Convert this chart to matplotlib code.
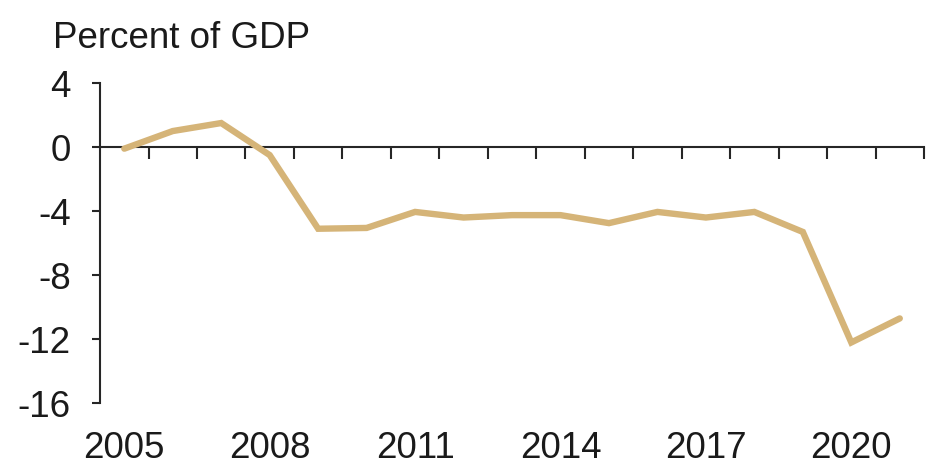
import matplotlib
matplotlib.use("Agg")
import matplotlib.pyplot as plt
import matplotlib.transforms as mtransforms

years = list(range(2005, 2022))
values = [-0.1, 1.0, 1.5, -0.5, -5.1, -5.05, -4.05, -4.4, -4.25, -4.25,
          -4.75, -4.05, -4.4, -4.05, -5.3, -12.2, -10.7]
label_years = [2005, 2008, 2011, 2014, 2017, 2020]
y_ticks = [4, 0, -4, -8, -12, -16]
title = "Percent of GDP"

line_color = "#D5B478"
axis_color = "#262626"
text_color = "#1a1a1a"

plt.rcParams['font.family'] = ['Liberation Sans', 'DejaVu Sans']

fig = plt.figure(figsize=(9.42, 4.70), dpi=100)
ax = fig.add_axes([0.1062, 0.1419, 0.9809 - 0.1062, 0.8234 - 0.1419])

x = list(range(len(years)))
ax.plot(x, values, color=line_color, lw=4.6, solid_joinstyle='miter',
        solid_capstyle='round', clip_on=False, zorder=3)

ax.set_xlim(-0.5, len(years) - 0.5)
ax.set_ylim(-16, 4)

for s in ['top', 'right']:
    ax.spines[s].set_visible(False)
ax.spines['left'].set_color(axis_color)
ax.spines['left'].set_linewidth(1.5)
ax.spines['bottom'].set_position(('data', 0))
ax.spines['bottom'].set_color(axis_color)
ax.spines['bottom'].set_linewidth(1.5)

ax.set_yticks(y_ticks)
ax.set_yticklabels([str(v) for v in y_ticks])
ax.tick_params(axis='y', direction='out', length=6, width=1.5, color=axis_color,
               labelsize=26.5, labelcolor=text_color, pad=15)

boundaries = [i + 0.5 for i in range(len(years))]
ax.set_xticks(boundaries)
ax.set_xticklabels([])
ax.tick_params(axis='x', direction='out', length=8.5, width=1.5, color=axis_color)

trans = mtransforms.blended_transform_factory(ax.transData, ax.transAxes)
for yr in label_years:
    ax.text(years.index(yr), -0.085, str(yr), transform=trans, ha='center',
            va='top', fontsize=26.5, color=text_color)

fig.text(53 / 942, 1 - 48 / 470, title, ha='left', va='baseline',
         fontsize=26.5, color=text_color)

fig.savefig("out.png", dpi=100)
